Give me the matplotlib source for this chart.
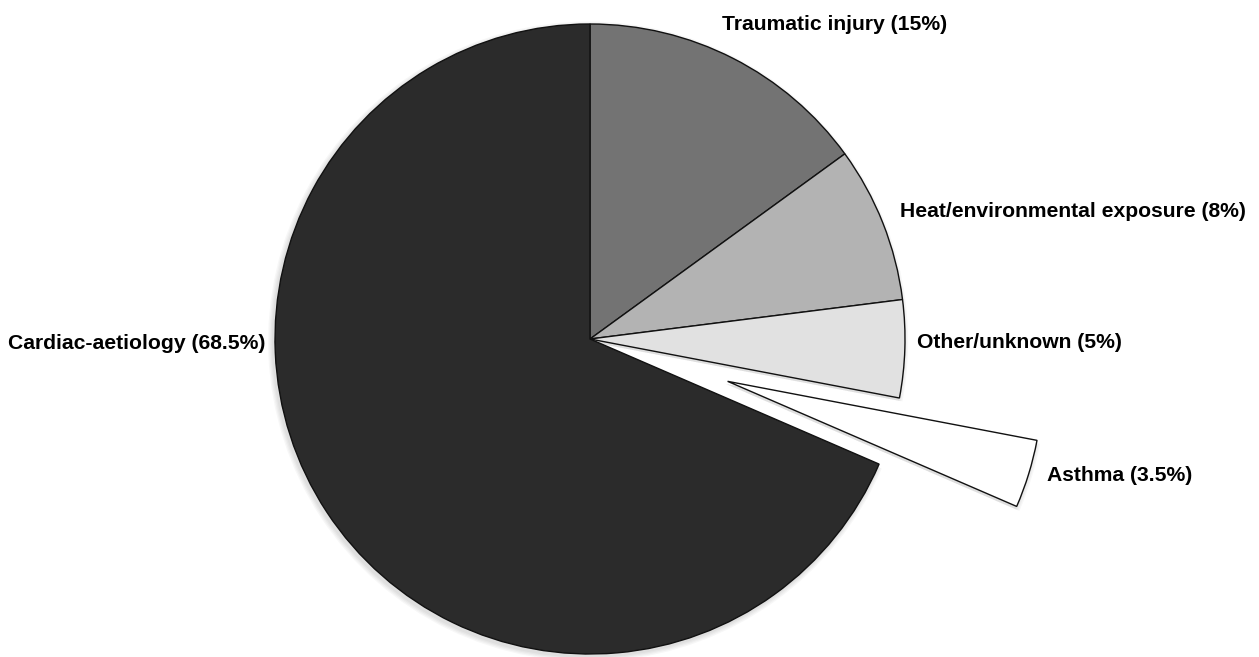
import matplotlib
matplotlib.use("Agg")
import matplotlib.pyplot as plt

plt.rcParams["font.family"] = ["Liberation Sans", "DejaVu Sans"]

# Causes of death, clockwise from 12 o'clock
labels = ["Traumatic injury (15%)", "Heat/environmental exposure (8%)",
          "Other/unknown (5%)", "Asthma (3.5%)", "Cardiac-aetiology (68.5%)"]
shares = [15, 8, 5, 3.5, 68.5]
colors = ["#737373", "#b3b3b3", "#e1e1e1", "#ffffff", "#2b2b2b"]
explode = [0, 0, 0, 0.457, 0]

# label anchor positions (in pie-radius units) and alignment
label_pos = [(0.419, 1.0), (0.984, 0.405), (1.038, -0.01), (1.45, -0.432), (-1.032, -0.013)]
label_ha = ["left", "left", "left", "left", "right"]

W, H = 1259, 657
cx, cy, R = 590, 339, 315  # pie centre and radius in pixels

fig = plt.figure(figsize=(W / 100, H / 100), dpi=100)
ax = fig.add_axes([0, 0, 1, 1])

# soft shadow
for i in range(4):
    ax.pie(shares, explode=explode, startangle=90, counterclock=False,
           colors=["#000000"] * 5, radius=1 + 0.004 * (i + 1),
           center=(-0.006, -0.008),
           wedgeprops=dict(linewidth=0, alpha=0.03))

ax.pie(shares, explode=explode, startangle=90, counterclock=False,
       colors=colors, radius=1,
       wedgeprops=dict(edgecolor="#111111", linewidth=1.0))

for txt, (x, y), ha in zip(labels, label_pos, label_ha):
    ax.text(x, y, txt, ha=ha, va="center", fontsize=15.2, fontweight="bold", color="black")

ax.set_aspect("equal")
ax.set_xlim(-cx / R, (W - cx) / R)
ax.set_ylim(-(H - cy) / R, cy / R)
ax.axis("off")

fig.savefig("out.png", dpi=100, facecolor="white")
